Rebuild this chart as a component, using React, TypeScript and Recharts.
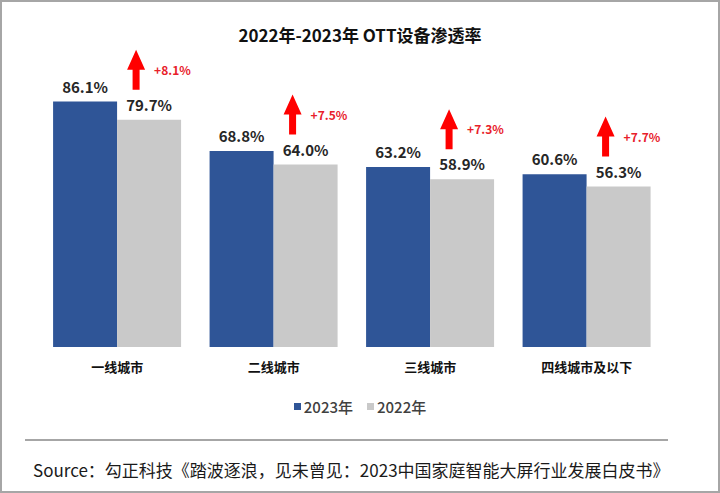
import { BarChart, Bar, XAxis, YAxis, LabelList, Legend } from 'recharts'

const categories = ['一线城市', '二线城市', '三线城市', '四线城市及以下']
const values2023 = [86.1, 68.8, 63.2, 60.6]
const values2022 = [79.7, 64.0, 58.9, 56.3]
const growthLabels = ['+8.1%', '+7.5%', '+7.3%', '+7.7%']

const BLUE = '#2f5597'
const GRAY = '#c9c9c9'
const FONT = '"Noto Sans CJK SC", "Noto Sans", sans-serif'

const data = categories.map((name, i) => ({
  name,
  y2023: values2023[i],
  y2022: values2022[i],
  growth: growthLabels[i],
}))

function GrowthArrow(props: any) {
  const { x, y, width, value } = props
  const cx = x + width / 2 - 13
  const bottom = y - 30
  const top = bottom - 40
  const d = `M${cx - 3.5},${bottom} L${cx - 3.5},${top + 20} L${cx - 9},${top + 20} L${cx},${top} L${cx + 9},${top + 20} L${cx + 3.5},${top + 20} L${cx + 3.5},${bottom} Z`
  return (
    <g>
      <path d={d} fill="#ff0000" />
      <text x={cx + 18} y={top + 22} fill="#e8202a" fontSize={12} fontWeight="bold" fontFamily={FONT} dominantBaseline="middle">
        {value}
      </text>
    </g>
  )
}

function LegendBox() {
  const items = [
    { label: '2023年', color: BLUE },
    { label: '2022年', color: GRAY },
  ]
  return (
    <div style={{ display: 'flex', justifyContent: 'center', gap: 14, fontFamily: FONT, fontSize: 15, color: '#404040', fontWeight: 500 }}>
      {items.map((it) => (
        <div key={it.label} style={{ display: 'flex', alignItems: 'center', gap: 3 }}>
          <span style={{ width: 7, height: 7, background: it.color, display: 'inline-block' }} />
          <span>{it.label}</span>
        </div>
      ))}
    </div>
  )
}

export default function App() {
  return (
    <div
      style={{
        position: 'absolute',
        left: 0,
        top: 0,
        width: 720,
        height: 493,
        boxSizing: 'border-box',
        border: '2px solid #a6a6a6',
        background: '#fff',
        fontFamily: FONT,
      }}
    >
      <div style={{ position: 'absolute', left: -2, top: -2, width: 720, height: 493 }}>
        <BarChart
          width={720}
          height={493}
          data={data}
          margin={{ top: 62, left: 39, right: 55, bottom: 116 }}
          barCategoryGap="9%"
          barGap={0}
        >
          <XAxis
            dataKey="name"
            height={30}
            axisLine={false}
            tickLine={false}
            tickMargin={10}
            tick={{ fontSize: 13, fontWeight: 'bold', fill: '#111', fontFamily: FONT }}
          />
          <YAxis hide domain={[0, 100]} />
          <Legend
            verticalAlign="middle"
            wrapperStyle={{ top: 396, left: 0, width: 720 }}
            content={() => <LegendBox />}
          />
          <Bar dataKey="y2023" fill={BLUE} isAnimationActive={false}>
            <LabelList
              dataKey="y2023"
              position="top"
              offset={9}
              formatter={(v: any) => `${Number(v).toFixed(1)}%`}
              style={{ fontSize: 15, fontWeight: 'bold', fill: '#262626', fontFamily: FONT }}
            />
          </Bar>
          <Bar dataKey="y2022" fill={GRAY} isAnimationActive={false}>
            <LabelList
              dataKey="y2022"
              position="top"
              offset={9}
              formatter={(v: any) => `${Number(v).toFixed(1)}%`}
              style={{ fontSize: 15, fontWeight: 'bold', fill: '#262626', fontFamily: FONT }}
            />
            <LabelList dataKey="growth" content={<GrowthArrow />} />
          </Bar>
        </BarChart>
      </div>
      <div
        style={{
          position: 'absolute',
          top: 20,
          left: 0,
          width: 716,
          textAlign: 'center',
          fontSize: 17,
          fontWeight: 'bold',
          color: '#111',
        }}
      >
        2022年-2023年 OTT设备渗透率
      </div>
      <div style={{ position: 'absolute', left: 23, top: 437, width: 643, height: 2, background: '#a6a6a6' }} />
      <div style={{ position: 'absolute', left: 31, top: 455, fontSize: 17, color: '#1a1a1a', whiteSpace: 'nowrap', letterSpacing: 0 }}>
        Source：勾正科技《踏波逐浪，见未曾见：2023中国家庭智能大屏行业发展白皮书》
      </div>
    </div>
  )
}
